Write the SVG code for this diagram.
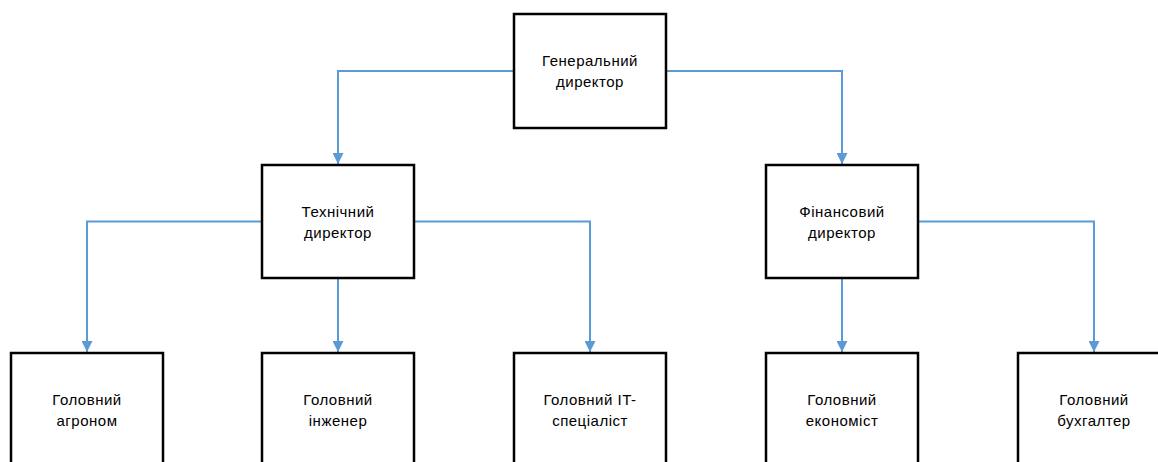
<svg xmlns="http://www.w3.org/2000/svg" width="1158" height="462" viewBox="0 0 1158 462">
  <defs>
    <marker id="arrow" viewBox="0 0 10 10" refX="10" refY="5" markerWidth="11" markerHeight="11" markerUnits="userSpaceOnUse" orient="auto">
      <path d="M0,0 L10,5 L0,10 Z" fill="#5b9bd5"/>
    </marker>
    <style>
      .box { fill: #ffffff; stroke: #000000; stroke-width: 2.5; }
      .lbl { font-family: "Liberation Sans", Arial, sans-serif; font-size: 15px; letter-spacing: 0.5px; fill: #000000; text-anchor: middle; }
      .conn { fill: none; stroke: #5b9bd5; stroke-width: 2; marker-end: url(#arrow); }
    </style>
  </defs>
  <rect width="1158" height="462" fill="#ffffff"/>

  <g id="connectors">
    <path class="conn" d="M514,71 H338 V164"/>
    <path class="conn" d="M666,71 H842 V164"/>
    <path class="conn" d="M262,221.5 H87 V352"/>
    <path class="conn" d="M338,278 V352"/>
    <path class="conn" d="M414,221.5 H590 V352"/>
    <path class="conn" d="M842,278 V352"/>
    <path class="conn" d="M918,221.5 H1094 V352"/>
  </g>

  <g id="general-director">
    <rect class="box" x="514" y="14" width="152" height="114"/>
    <text class="lbl" x="590" y="66">Генеральний</text>
    <text class="lbl" x="590" y="87">директор</text>
  </g>

  <g id="technical-director">
    <rect class="box" x="262" y="165" width="152" height="113"/>
    <text class="lbl" x="338" y="217">Технічний</text>
    <text class="lbl" x="338" y="238">директор</text>
  </g>

  <g id="financial-director">
    <rect class="box" x="766" y="165" width="152" height="113"/>
    <text class="lbl" x="842" y="217">Фінансовий</text>
    <text class="lbl" x="842" y="238">директор</text>
  </g>

  <g id="chief-agronomist">
    <rect class="box" x="11" y="353" width="152" height="113"/>
    <text class="lbl" x="87" y="405">Головний</text>
    <text class="lbl" x="87" y="426">агроном</text>
  </g>

  <g id="chief-engineer">
    <rect class="box" x="262" y="353" width="152" height="113"/>
    <text class="lbl" x="338" y="405">Головний</text>
    <text class="lbl" x="338" y="426">інженер</text>
  </g>

  <g id="chief-it-specialist">
    <rect class="box" x="514" y="353" width="152" height="113"/>
    <text class="lbl" x="590" y="405">Головний IT-</text>
    <text class="lbl" x="590" y="426">спеціаліст</text>
  </g>

  <g id="chief-economist">
    <rect class="box" x="766" y="353" width="152" height="113"/>
    <text class="lbl" x="842" y="405">Головний</text>
    <text class="lbl" x="842" y="426">економіст</text>
  </g>

  <g id="chief-accountant">
    <rect class="box" x="1018" y="353" width="152" height="113"/>
    <text class="lbl" x="1094" y="405">Головний</text>
    <text class="lbl" x="1094" y="426">бухгалтер</text>
  </g>
</svg>
